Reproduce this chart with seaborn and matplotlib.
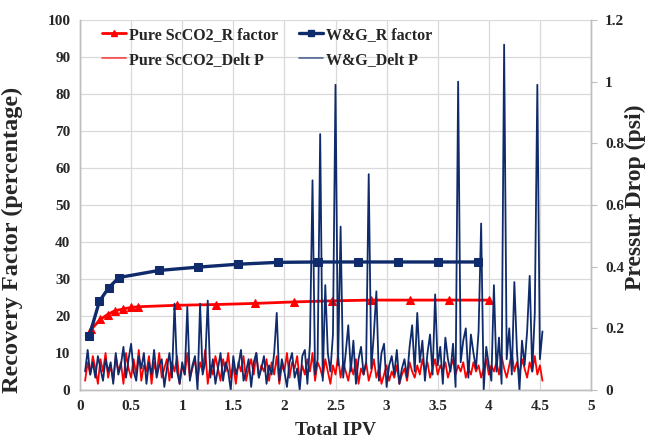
import numpy as np
import pandas as pd
import matplotlib
matplotlib.use("Agg")
import matplotlib.pyplot as plt
import seaborn as sns
from matplotlib.lines import Line2D

# ---------------- data ----------------
pure_r_ipv = [0.11, 0.20, 0.27, 0.34, 0.42, 0.50, 0.57, 0.95, 1.33, 1.71, 2.09, 2.47, 2.85, 3.23, 3.61, 4.00]
pure_r_val = [16.4, 19.1, 20.4, 21.4, 21.9, 22.3, 22.5, 22.9, 23.1, 23.4, 23.8, 24.1, 24.3, 24.3, 24.3, 24.3]

wg_r_ipv = [0.09, 0.19, 0.28, 0.38, 0.77, 1.15, 1.55, 1.94, 2.33, 2.72, 3.11, 3.50, 3.89]
wg_r_val = [14.5, 24.0, 27.6, 30.4, 32.3, 33.2, 34.0, 34.5, 34.6, 34.6, 34.6, 34.6, 34.6]

dp_ipv_start = 0.05
dp_ipv_step = 0.025

pure_dp = [
    0.03, 0.09, 0.05, 0.11, 0.07, 0.02, 0.10, 0.06, 0.12, 0.04,
    0.08, 0.03, 0.11, 0.06, 0.09, 0.02, 0.12, 0.07, 0.04, 0.10,
    0.05, 0.13, 0.03, 0.08, 0.06, 0.11, 0.02, 0.09, 0.05, 0.12,
    0.04, 0.07, 0.10, 0.03, 0.09, 0.06, 0.11, 0.02, 0.08, 0.05,
    0.12, 0.04, 0.07, 0.10, 0.03, 0.09, 0.06, 0.13, 0.02, 0.08,
    0.05, 0.11, 0.07, 0.03, 0.10, 0.06, 0.12, 0.04, 0.08, 0.02,
    0.09, 0.06, 0.11, 0.03, 0.07, 0.10, 0.05, 0.12, 0.04, 0.08,
    0.06, 0.10, 0.03, 0.09, 0.05, 0.11, 0.02, 0.08, 0.06, 0.12,
    0.04, 0.09, 0.07, 0.11, 0.03, 0.08, 0.05, 0.10, 0.06, 0.12,
    0.03, 0.09, 0.07, 0.04, 0.10, 0.06, 0.02, 0.08, 0.05, 0.11,
    0.04, 0.09, 0.06, 0.03, 0.08, 0.05, 0.10, 0.02, 0.07, 0.05,
    0.09, 0.03, 0.06, 0.10, 0.04, 0.07, 0.02, 0.05, 0.08, 0.03,
    0.06, 0.04, 0.08, 0.02, 0.05, 0.07, 0.03, 0.09, 0.06, 0.04,
    0.08, 0.05, 0.10, 0.06, 0.09, 0.04, 0.07, 0.10, 0.05, 0.08,
    0.06, 0.09, 0.04, 0.07, 0.10, 0.05, 0.08, 0.06, 0.09, 0.04,
    0.07, 0.05, 0.09, 0.06, 0.08, 0.04, 0.07, 0.10, 0.05, 0.08,
    0.06, 0.09, 0.05, 0.11, 0.07, 0.04, 0.08, 0.12, 0.06, 0.09,
    0.05, 0.10, 0.07, 0.04, 0.09, 0.06, 0.11, 0.05, 0.08, 0.03,
]

wg_dp = [
    0.06, 0.13, 0.05, 0.09, 0.04, 0.11, 0.07, 0.03, 0.10, 0.06,
    0.09, 0.02, 0.12, 0.05, 0.08, 0.14, 0.04, 0.10, 0.15, 0.06,
    0.03, 0.11, 0.07, 0.12, 0.02, 0.09, 0.05, 0.13, 0.04, 0.08,
    0.10, 0.01, 0.07, 0.12, 0.04, 0.28, 0.06, 0.02, 0.09, 0.05,
    0.27, 0.03, 0.08, 0.11, 0.00, 0.28, 0.05, 0.09, 0.29, 0.04,
    0.10, 0.02, 0.07, 0.12, 0.03, 0.09, 0.06, 0.00, 0.11, 0.05,
    0.08, 0.13, 0.03, 0.06, 0.10, 0.01, 0.09, 0.12, 0.04, 0.07,
    0.11, 0.02, 0.08, 0.05, 0.12, 0.25, 0.03, 0.10, 0.06, 0.01,
    0.09, 0.12, 0.04, 0.07, 0.00, 0.11, 0.13, 0.02, 0.15, 0.68,
    0.05, 0.10, 0.83, 0.03, 0.34, 0.12, 0.06, 0.18, 0.99, 0.08,
    0.53, 0.04, 0.12, 0.21, 0.06, 0.16, 0.02, 0.10, 0.14, 0.05,
    0.09, 0.70, 0.07, 0.18, 0.32, 0.03, 0.12, 0.15, 0.01, 0.08,
    0.11, 0.05, 0.13, 0.02, 0.07, 0.10, 0.04, 0.14, 0.21, 0.06,
    0.25, 0.09, 0.16, 0.03, 0.12, 0.18, 0.05, 0.31, 0.08, 0.14,
    0.02, 0.17, 0.10, 0.06, 0.15, 0.01, 1.00, 0.09, 0.16, 0.20,
    0.04, 0.18, 0.12, 0.07, 0.19, 0.54, 0.00, 0.14, 0.08, 0.03,
    0.34, 0.06, 0.17, 0.02, 1.12, 0.10, 0.20, 0.05, 0.35, 0.13,
    0.00, 0.16, 0.08, 0.19, 0.37, 0.06, 0.25, 0.99, 0.10, 0.19,
]

x_ticks = [0, 0.5, 1, 1.5, 2, 2.5, 3, 3.5, 4, 4.5, 5]
x_tick_labels = ["0", "0.5", "1", "1.5", "2", "2.5", "3", "3.5", "4", "4.5", "5"]
left_ticks = [0, 10, 20, 30, 40, 50, 60, 70, 80, 90, 100]
right_ticks = [0, 0.2, 0.4, 0.6, 0.8, 1.0, 1.2]
right_tick_labels = ["0", "0.2", "0.4", "0.6", "0.8", "1", "1.2"]

# ---------------- style ----------------
sns.set_style("white")
plt.rcParams["font.family"] = ["Liberation Serif", "DejaVu Serif"]
plt.rcParams["font.weight"] = "bold"

RED = "#ff0000"
NAVY = "#0f2b6b"
GRID = "#d9d9d9"

fig = plt.figure(figsize=(6.51, 4.41), dpi=100)
ax = fig.add_axes([80 / 651, 51 / 441, 511 / 651, 370 / 441])
ax2 = ax.twinx()

dp_ipv = [dp_ipv_start + dp_ipv_step * i for i in range(len(wg_dp))]
df_pure = pd.DataFrame({"ipv": dp_ipv[:len(pure_dp)], "dp": pure_dp})
df_wg = pd.DataFrame({"ipv": dp_ipv, "dp": wg_dp})
df_pr = pd.DataFrame({"ipv": pure_r_ipv, "r": pure_r_val})
df_wr = pd.DataFrame({"ipv": wg_r_ipv, "r": wg_r_val})

sns.lineplot(data=df_pr, x="ipv", y="r", ax=ax, color=RED, lw=2.0,
             marker="^", markersize=6, markeredgecolor=RED, sort=False, estimator=None)
sns.lineplot(data=df_wr, x="ipv", y="r", ax=ax, color=NAVY, lw=2.4,
             marker="s", markersize=6, markeredgecolor=NAVY, sort=False, estimator=None)

sns.lineplot(data=df_pure, x="ipv", y="dp", ax=ax2, color=RED, lw=1.3,
             sort=False, estimator=None)
sns.lineplot(data=df_wg, x="ipv", y="dp", ax=ax2, color=NAVY, lw=1.3,
             sort=False, estimator=None)

ax.set_xlim(0, 5)
ax.set_ylim(0, 100)
ax2.set_ylim(0, 1.2)
ax.set_xticks(x_ticks)
ax.set_xticklabels(x_tick_labels)
ax.set_yticks(left_ticks)
ax2.set_yticks(right_ticks)
ax2.set_yticklabels(right_tick_labels)

ax.grid(True, color=GRID, lw=0.9)
ax.set_axisbelow(True)
ax2.grid(False)

for a in (ax, ax2):
    for s in a.spines.values():
        s.set_color("#bfbfbf")
        s.set_linewidth(1.0)
    a.spines["top"].set_visible(False)

ax.tick_params(axis="both", length=0, labelsize=11, pad=7)
ax2.tick_params(axis="y", length=4, color="#bfbfbf", labelsize=11, pad=6)
for lab in ax.get_xticklabels() + ax.get_yticklabels() + ax2.get_yticklabels():
    lab.set_fontweight("bold")

ax.set_xlabel("Total IPV", fontsize=14, fontweight="bold", labelpad=7)
ax.set_ylabel("Recovery Factor (percentage)", fontsize=17.5, fontweight="bold")
ax.yaxis.set_label_coords(-0.112, 0.405)
ax2.set_ylabel("Pressur Drop (psi)", fontsize=17, fontweight="bold", rotation=90)
ax2.yaxis.set_label_coords(1.066, 0.52)

handles = [
    Line2D([], [], color=RED, lw=2.0, marker="^", markersize=5),
    Line2D([], [], color=RED, lw=1.2, alpha=0.7),
    Line2D([], [], color=NAVY, lw=2.4, marker="s", markersize=5),
    Line2D([], [], color=NAVY, lw=1.2, alpha=0.7),
]
labels = ["Pure ScCO2_R factor", "Pure ScCO2_Delt P", "W&G_R factor", "W&G_Delt P"]
leg = ax2.legend(handles, labels, ncol=2, frameon=False, loc="upper left",
                 bbox_to_anchor=(0.015, 1.02), handlelength=1.5,
                 handletextpad=0.2, columnspacing=1.3, labelspacing=0.55,
                 prop={"weight": "bold", "size": 11.5})

fig.savefig("out.png", dpi=100)
